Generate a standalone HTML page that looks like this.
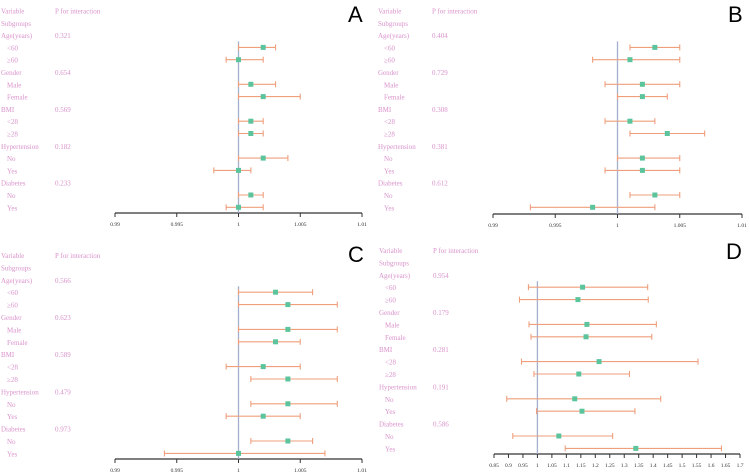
<!DOCTYPE html>
<html><head><meta charset="utf-8"><style>
html,body{margin:0;padding:0;background:#fff;width:750px;height:472px;overflow:hidden}
svg{display:block}
text{font-family:"Liberation Serif",serif}
</style></head><body>
<svg id="fig" width="750" height="472"></svg>
<script>
const labels=["Variable","Subgroups","Age(years)","<60","≥60","Gender","Male","Female","BMI","<28","≥28","Hypertension","No","Yes","Diabetes","No","Yes"];
const indent=[0,0,0,1,1,0,1,1,0,1,1,0,1,1,0,1,1];
const pA=["P for interaction","","0.321","","","0.654","","","0.569","","","0.182","","","0.233","",""];
const pB=["P for interaction","","0.404","","","0.729","","","0.308","","","0.381","","","0.612","",""];
const pC=["P for interaction","","0.566","","","0.623","","","0.589","","","0.479","","","0.973","",""];
const pD=["P for interaction","","0.954","","","0.179","","","0.281","","","0.191","","","0.586","",""];
const estA=[1.002,1.000,1.001,1.002,1.001,1.001,1.002,1.000,1.001,1.000];
const loA=[1.000,0.999,1.000,1.000,1.000,1.000,1.000,0.998,1.000,0.999];
const hiA=[1.003,1.002,1.003,1.005,1.002,1.002,1.004,1.001,1.002,1.002];
const estB=[1.003,1.001,1.002,1.002,1.001,1.004,1.002,1.002,1.003,0.998];
const loB=[1.001,0.998,0.999,1.000,0.999,1.001,1.000,0.999,1.001,0.993];
const hiB=[1.005,1.005,1.005,1.004,1.003,1.007,1.005,1.005,1.005,1.003];
const estC=[1.003,1.004,1.004,1.003,1.002,1.004,1.004,1.002,1.004,1.000];
const loC=[1.000,1.000,1.000,1.000,0.999,1.001,1.001,0.999,1.001,0.994];
const hiC=[1.006,1.008,1.008,1.005,1.005,1.008,1.008,1.005,1.006,1.007];
const estD=[1.156,1.140,1.171,1.168,1.213,1.143,1.129,1.154,1.074,1.340];
const loD=[0.969,0.938,0.971,0.978,0.945,0.988,0.894,0.997,0.915,1.096];
const hiD=[1.381,1.383,1.411,1.395,1.555,1.318,1.426,1.337,1.260,1.636];
const ticksSmall=["0.99","0.995","1","1.005","1.01"];
const ticksD=["0.85","0.9","0.95","1","1.05","1.1","1.15","1.2","1.25","1.3","1.35","1.4","1.45","1.5","1.55","1.6","1.65","1.7"];
const dataRows=[3,4,6,7,9,10,12,13,15,16];

const NS="http://www.w3.org/2000/svg";
const svg=document.getElementById('fig');
function mk(tag,attrs,parent){const e=document.createElementNS(NS,tag);for(const k in attrs)e.setAttribute(k,attrs[k]);parent.appendChild(e);return e;}

function panel(cfg){
  const g=mk('g',{transform:`translate(${cfg.ox},${cfg.oy})`},svg);
  
  
  const tmin=parseFloat(cfg.ticks[0]),tmax=parseFloat(cfg.ticks[cfg.ticks.length-1]);
  const xs=v=>cfg.x0+(v-tmin)/(tmax-tmin)*(cfg.x1-cfg.x0);
  const ys=i=>cfg.y0+i*cfg.step;
  labels.forEach((l,i)=>{
    const t=mk('text',{x:cfg.tx+(indent[i]?6:0),y:ys(i)+3,'font-size':'7','fill':'#d993cc'},g);
    t.textContent=l;
    
    
    if(cfg.p[i]){const p=mk('text',{x:cfg.tx+54,y:ys(i)+3,'font-size':'7','fill':'#d993cc'},g);p.textContent=cfg.p[i];
      
      }
  });
  const L=mk('text',{x:cfg.x1-14,y:cfg.ly,'font-size':'22','fill':'#000'},g);
  L.setAttribute('style','font-family:"Liberation Sans",sans-serif');
  L.textContent=cfg.letter;
  
  
  const ax=mk('line',{x1:cfg.x0,x2:cfg.x1,y1:cfg.ay,y2:cfg.ay,stroke:'#333','stroke-width':1.2},g);
  
  
  cfg.ticks.forEach(tk=>{
    const x=xs(parseFloat(tk));
    mk('line',{x1:x,x2:x,y1:cfg.ay,y2:cfg.ay+4,stroke:'#333','stroke-width':1},g);
    const t=mk('text',{x:x,y:cfg.ay+13,'font-size':'5.5','fill':'#333','text-anchor':'middle'},g);
    t.textContent=tk;
    
    
  });
  const ref=mk('line',{x1:xs(1),x2:xs(1),y1:ys(3)-6,y2:cfg.ay,stroke:'#a3b0cc','stroke-width':1.3},g);
  
  
  cfg.est.forEach((e,k)=>{
    const y=ys(dataRows[k]);
    const a=xs(cfg.lo[k]),b=xs(cfg.hi[k]);
    const ci=mk('line',{x1:a,x2:b,y1:y,y2:y,stroke:'#ef9f7c','stroke-width':1.1},g);
    
    
    mk('line',{x1:a,x2:a,y1:y-3,y2:y+3,stroke:'#ef9f7c','stroke-width':1.1},g);
    mk('line',{x1:b,x2:b,y1:y-3,y2:y+3,stroke:'#ef9f7c','stroke-width':1.1},g);
    const pt=mk('rect',{x:xs(e)-2.5,y:y-2.5,width:5,height:5,fill:'#5cc49c'},g);
    
    
  });
}
panel({letter:'A',ox:0,oy:0,x0:115,x1:362,ay:213,y0:10.5,step:12.3,tx:1,ly:22,ticks:ticksSmall,p:pA,est:estA,lo:loA,hi:hiA});
panel({letter:'B',ox:375,oy:0,x0:118,x1:367,ay:214,y0:10.5,step:12.3,tx:3,ly:22,ticks:ticksSmall,p:pB,est:estB,lo:loB,hi:hiB});
panel({letter:'C',ox:0,oy:236,x0:115,x1:362,ay:223,y0:19,step:12.4,tx:1,ly:26,ticks:ticksSmall,p:pC,est:estC,lo:loC,hi:hiC});
panel({letter:'D',ox:375,oy:236,x0:119,x1:365,ay:218,y0:14,step:12.4,tx:4,ly:23,ticks:ticksD,p:pD,est:estD,lo:loD,hi:hiD});
</script>
</body></html>
